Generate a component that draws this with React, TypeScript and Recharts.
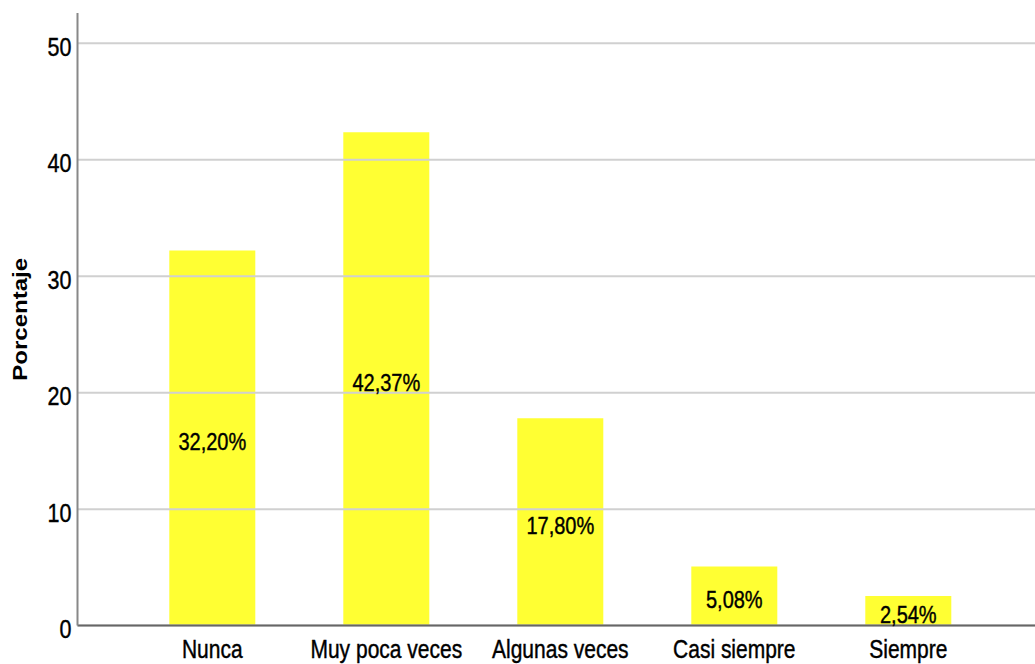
import React from 'react';
import { BarChart, Bar, XAxis, YAxis, LabelList, ReferenceLine } from 'recharts';

const categories = ['Nunca', 'Muy poca veces', 'Algunas veces', 'Casi siempre', 'Siempre'];
const percentages = [32.2, 42.37, 17.8, 5.08, 2.54];
const yTicks = [0, 10, 20, 30, 40, 50];

const data = categories.map((name, i) => ({ name, value: percentages[i] }));

const FONT = '"Liberation Sans", Arial, sans-serif';
// the reference text is stretched vertically (~1.2)
const STRETCH = 1.2;

const formatPercent = (v: number) => v.toFixed(2).replace('.', ',') + '%';

const textStyle = { fontFamily: FONT, fill: '#000', stroke: '#000', strokeWidth: 0.35 };

const YTick = (props: any) => {
  const { x, y, payload } = props;
  return (
    <text
      transform={`translate(${x},${y + 12.5}) scale(1,${STRETCH})`}
      textAnchor="end"
      fontSize={21.5}
      {...textStyle}
    >
      {payload.value}
    </text>
  );
};

const XTick = (props: any) => {
  const { x, y, payload } = props;
  return (
    <text
      transform={`translate(${x},${y + 32}) scale(1,${STRETCH})`}
      textAnchor="middle"
      fontSize={21}
      {...textStyle}
    >
      {payload.value}
    </text>
  );
};

const BarValue = (props: any) => {
  const { x, y, width, height, value } = props;
  const cx = x + width / 2;
  const cy = y + height / 2;
  return (
    <text
      transform={`translate(${cx},${cy + 12}) scale(1,${STRETCH})`}
      textAnchor="middle"
      fontSize={20}
      {...textStyle}
    >
      {formatPercent(value)}
    </text>
  );
};

const AxisTitle = (props: any) => {
  const { viewBox } = props;
  const cy = viewBox.y + viewBox.height / 2;
  return (
    <text
      transform={`translate(26.5,${cy}) rotate(-90) scale(${STRETCH},1)`}
      textAnchor="middle"
      fontFamily={FONT}
      fontSize={20}
      fontWeight="bold"
      fill="#000"
    >
      Porcentaje
    </text>
  );
};

export default function App() {
  return (
    <div style={{ position: 'absolute', left: 0, top: 0, background: '#fff' }}>
      <BarChart
        width={1035}
        height={664}
        data={data}
        margin={{ top: 13, right: 0, bottom: 0, left: 0 }}
        barSize={86}
      >
        {yTicks.map((t) => (
          <ReferenceLine key={t} y={t} stroke="#d0d0d0" strokeWidth={2} />
        ))}
        <XAxis
          dataKey="name"
          height={38.4}
          padding={{ left: 47.8, right: 39.7 }}
          tickLine={false}
          tickSize={0}
          tickMargin={0}
          axisLine={{ stroke: '#666', strokeWidth: 2 }}
          tick={<XTick />}
          interval={0}
        />
        <YAxis
          width={77.5}
          domain={[0, 52.6]}
          ticks={yTicks}
          tickLine={false}
          tickSize={0}
          tickMargin={6}
          axisLine={{ stroke: '#888', strokeWidth: 2 }}
          tick={<YTick />}
          label={{ content: <AxisTitle /> }}
          allowDataOverflow
        />
        <Bar dataKey="value" fill="#ffff33" isAnimationActive={false}>
          <LabelList dataKey="value" content={<BarValue />} />
        </Bar>
      </BarChart>
    </div>
  );
}
